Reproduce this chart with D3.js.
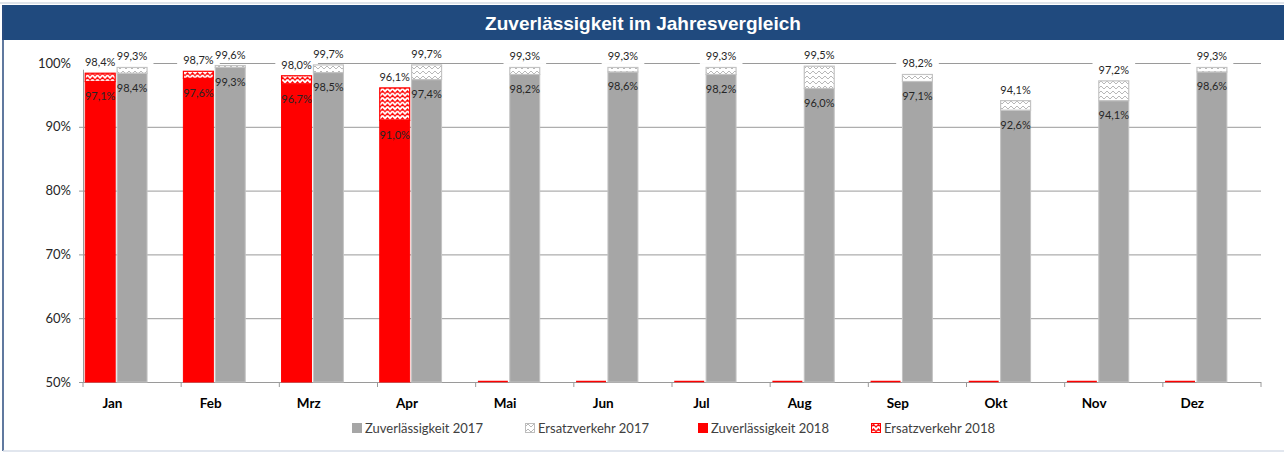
<!DOCTYPE html>
<html>
<head>
<meta charset="utf-8">
<script src="https://cdn.jsdelivr.net/npm/d3@7"></script>
<style>
  body { margin: 0; background: #fff; }
  svg { display: block; }
</style>
</head>
<body>
<svg id="chart" width="1284" height="453"></svg>
<script>
// Monate
const monate = ["Jan", "Feb", "Mrz", "Apr", "Mai", "Jun", "Jul", "Aug", "Sep", "Okt", "Nov", "Dez"];

// Zuverlässigkeit 2018 (ohne / mit Ersatzverkehr), in %
const zuverl2018 = [97.1, 97.6, 96.7, 91.0, null, null, null, null, null, null, null, null];
const gesamt2018 = [98.4, 98.7, 98.0, 96.1, null, null, null, null, null, null, null, null];

// Zuverlässigkeit 2017 (ohne / mit Ersatzverkehr), in %
const zuverl2017 = [98.4, 99.3, 98.5, 97.4, 98.2, 98.6, 98.2, 96.0, 97.1, 92.6, 94.1, 98.6];
const gesamt2017 = [99.3, 99.6, 99.7, 99.7, 99.3, 99.3, 99.3, 99.5, 98.2, 94.1, 97.2, 99.3];

// Achsenbeschriftung
const yTicks = [50, 60, 70, 80, 90, 100];
const yDomain = [50, 100];

const titel = "Zuverlässigkeit im Jahresvergleich";
const legende = ["Zuverlässigkeit 2017", "Ersatzverkehr 2017", "Zuverlässigkeit 2018", "Ersatzverkehr 2018"];

// ---------------------------------------------------------------
const W = 1284, H = 453;
const svg = d3.select("#chart");
const fmt = v => v.toFixed(1).replace(".", ",") + "%";

const rot = "#ff0000", grau = "#a6a6a6", grauRand = "#c3c3c3";
const fontData = "Lato, 'Open Sans', sans-serif";

// Muster für den Ersatzverkehr (Zickzack)
const defs = svg.append("defs");
function zickzack(id, farbe, w, h, sw) {
  const p = defs.append("pattern")
    .attr("id", id).attr("patternUnits", "userSpaceOnUse")
    .attr("width", w).attr("height", h);
  p.append("rect").attr("width", w).attr("height", h).attr("fill", "#fff");
  p.append("path")
    .attr("d", `M${-w / 2},${h * 0.2} L0,${h * 0.8} L${w / 2},${h * 0.2} L${w},${h * 0.8} L${w * 1.5},${h * 0.2}`)
    .attr("fill", "none").attr("stroke", farbe).attr("stroke-width", sw);
}
zickzack("muster2018", rot, 5, 4.5, 1.2);
zickzack("muster2017", "#b8b8b8", 6, 5, 1);

// Rahmen und Titelleiste
svg.append("rect").attr("x", 0).attr("y", 0).attr("width", W).attr("height", H).attr("fill", "#fff");
svg.append("line").attr("x1", 0).attr("x2", W).attr("y1", 3).attr("y2", 3)
  .attr("stroke", "#d5dbe3").attr("stroke-width", 1.5);
svg.append("rect").attr("x", 2).attr("y", 5).attr("width", W - 2).attr("height", 35).attr("fill", "#204a7e");
svg.append("text").attr("x", W / 2 + 1).attr("y", 23).attr("text-anchor", "middle")
  .attr("dominant-baseline", "central")
  .attr("font-family", "'Liberation Sans', Arial, sans-serif").attr("font-weight", "bold")
  .attr("font-size", 19).attr("fill", "#fff").text(titel);
svg.append("line").attr("x1", 3).attr("x2", 3).attr("y1", 5).attr("y2", 451)
  .attr("stroke", "#2b4d7f").attr("stroke-width", 1.5);
svg.append("line").attr("x1", 3).attr("x2", W).attr("y1", 451).attr("y2", 451)
  .attr("stroke", "#d7dee8").attr("stroke-width", 1.5);

// Skalen
const x = d3.scaleBand().domain(monate).range([83, 1261]).paddingInner(0).paddingOuter(0);
const slot = d3.scaleBand().domain(["2018", "2017", "frei"]).range([0, x.bandwidth()])
  .paddingInner(0.06).paddingOuter(0.07);
const y = d3.scaleLinear().domain(yDomain).range([382, 63]);

const [x0, x1] = x.range();

// Gitternetzlinien
svg.append("g").selectAll("line").data(yTicks.filter(t => t > yDomain[0])).join("line")
  .attr("x1", x0).attr("x2", x1)
  .attr("y1", d => y(d) + 0.5).attr("y2", d => y(d) + 0.5)
  .attr("stroke", "#9a9a9a").attr("stroke-width", 1);

// y-Achse
const yAxis = svg.append("g").attr("transform", `translate(${x0},0)`)
  .call(d3.axisLeft(y).tickValues(yTicks).tickFormat(d => d + "%").tickSize(4).tickPadding(8));
yAxis.select(".domain").attr("stroke", "#9a9a9a");
yAxis.selectAll(".tick line").attr("stroke", "#9a9a9a");
yAxis.selectAll("text").attr("font-family", fontData).attr("font-size", 13).attr("fill", "#262626");

// Datensätze je Monat
const reihen = [
  { jahr: "2018", z: zuverl2018, g: gesamt2018, fill: rot, rand: rot, muster: "url(#muster2018)" },
  { jahr: "2017", z: zuverl2017, g: gesamt2017, fill: grau, rand: grauRand, muster: "url(#muster2017)" }
];
const punkte = reihen.flatMap(r => monate.map((m, i) => ({
  monat: m, jahr: r.jahr, z: r.z[i], g: r.g[i], fill: r.fill, rand: r.rand, muster: r.muster
})));
const mitWert = punkte.filter(d => d.z != null);
const bx = d => x(d.monat) + slot(d.jahr);
const bw = slot.bandwidth();

// weiße Hinterlegung der Summenbeschriftungen
const summenY = d => y(d.g) - 11.5;
const boxG = svg.append("g");

// x-Achse: Grundlinie und Teilstriche an den Kategoriegrenzen
svg.append("line").attr("x1", x0).attr("x2", x1)
  .attr("y1", y(yDomain[0]) + 0.5).attr("y2", y(yDomain[0]) + 0.5)
  .attr("stroke", "#9a9a9a");
const grenzen = monate.map(m => x(m)).concat([x1]);
svg.append("g").selectAll("line").data(grenzen).join("line")
  .attr("x1", d => d).attr("x2", d => d)
  .attr("y1", y(yDomain[0])).attr("y2", y(yDomain[0]) + 5)
  .attr("stroke", "#9a9a9a");
svg.append("g").selectAll("text").data(monate).join("text")
  .attr("x", m => x(m) + x.bandwidth() * 0.3).attr("y", 403)
  .attr("text-anchor", "middle").attr("dominant-baseline", "central")
  .attr("font-family", fontData).attr("font-weight", "bold").attr("font-size", 13.5)
  .attr("fill", "#000").text(m => m);

// Säulen: Zuverlässigkeit
svg.append("g").selectAll("rect").data(mitWert).join("rect")
  .attr("x", bx).attr("width", bw)
  .attr("y", d => y(d.z)).attr("height", d => y(yDomain[0]) - y(d.z))
  .attr("fill", d => d.fill).attr("stroke", d => d.rand).attr("stroke-width", 1);

// Säulen: Ersatzverkehr (Anteil zwischen Zuverlässigkeit und Gesamtwert)
svg.append("g").selectAll("rect").data(mitWert).join("rect")
  .attr("x", bx).attr("width", bw)
  .attr("y", d => y(d.g)).attr("height", d => y(d.z) - y(d.g))
  .attr("fill", d => d.muster).attr("stroke", d => d.rand).attr("stroke-width", 1.2);

// Monate ohne Wert: Säule der Höhe null als Linie auf der Grundlinie
svg.append("g").selectAll("line").data(punkte.filter(d => d.z == null)).join("line")
  .attr("x1", bx).attr("x2", d => bx(d) + bw)
  .attr("y1", y(yDomain[0]) - 0.5).attr("y2", y(yDomain[0]) - 0.5)
  .attr("stroke", d => d.rand).attr("stroke-width", 1.5);

// Beschriftung innerhalb der Säulen (Zuverlässigkeit)
svg.append("g").selectAll("text").data(mitWert).join("text")
  .attr("x", d => bx(d) + bw / 2).attr("y", d => y(d.z) + 14)
  .attr("text-anchor", "middle").attr("dominant-baseline", "central")
  .attr("font-family", fontData).attr("font-size", 11).attr("fill", "#262626")
  .text(d => fmt(d.z));

// Beschriftung über den Säulen (mit Ersatzverkehr)
const summen = svg.append("g").selectAll("text").data(mitWert).join("text")
  .attr("x", d => bx(d) + bw / 2).attr("y", summenY)
  .attr("text-anchor", "middle").attr("dominant-baseline", "central")
  .attr("font-family", fontData).attr("font-size", 11).attr("fill", "#262626")
  .text(d => fmt(d.g));
summen.each(function (d) {
  const b = this.getBBox();
  boxG.append("rect")
    .attr("x", b.x - 6).attr("y", summenY(d) - 8)
    .attr("width", b.width + 12).attr("height", 16).attr("fill", "#fff");
});

// Legende
const legX = d3.scalePoint().domain(legende).range([352, 871]);
const legY = 428;
const leg = svg.append("g").selectAll("g").data(legende).join("g")
  .attr("transform", d => `translate(${legX(d)},${legY})`);
const legFill = [grau, "url(#muster2017)", rot, "url(#muster2018)"];
const legRand = [grau, "#bdbdbd", rot, rot];
leg.append("rect").attr("x", 0.5).attr("y", -4.5).attr("width", 9).attr("height", 9)
  .attr("fill", (d, i) => legFill[i]).attr("stroke", (d, i) => legRand[i]).attr("stroke-width", 1);
leg.append("text").attr("x", 13).attr("y", 0).attr("dominant-baseline", "central")
  .attr("font-family", fontData).attr("font-size", 13).attr("fill", "#404040")
  .text(d => d);
</script>
</body>
</html>
